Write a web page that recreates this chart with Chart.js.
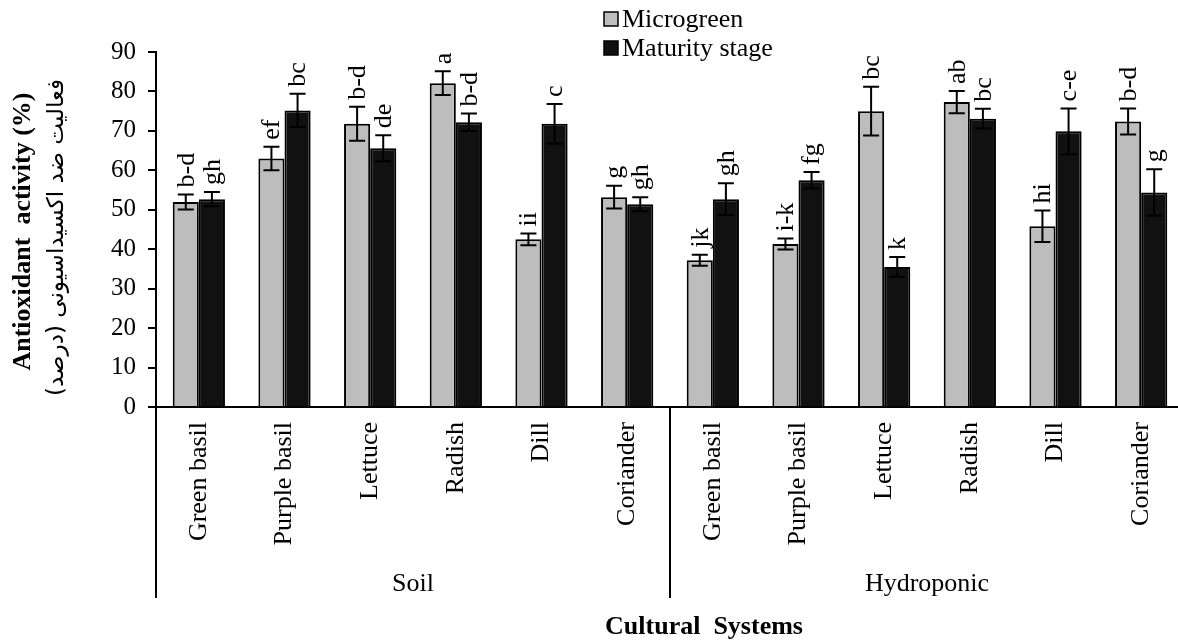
<!DOCTYPE html>
<html>
<head>
<meta charset="utf-8">
<script src="https://cdn.jsdelivr.net/npm/chart.js@4/dist/chart.umd.min.js"></script>
<style>
  html, body { margin: 0; padding: 0; background: #fff; }
  .wrap { width: 1178px; height: 643px; overflow: hidden; }
</style>
</head>
<body>
<div class="wrap"><canvas id="myChart" width="1190" height="643"></canvas></div>
<script>
const categories = ['Green basil', 'Purple basil', 'Lettuce', 'Radish', 'Dill', 'Coriander',
  'Green basil', 'Purple basil', 'Lettuce', 'Radish', 'Dill', 'Coriander']
const systems = ['Soil', 'Hydroponic']

const microgreen = [52.0, 63.0, 71.8, 82.1, 42.5, 53.2, 37.2, 41.3, 75.0, 77.3, 45.8, 72.4]
const microgreenErr = [1.9, 3.0, 4.3, 3.0, 1.5, 2.9, 1.4, 1.4, 6.2, 2.8, 4.0, 3.3]
const microgreenLetters = ['b-d', 'ef', 'b-d', 'a', 'ii', 'g', 'jk', 'i-k', 'bc', 'ab', 'hi', 'b-d']

const maturity = [52.7, 75.2, 65.6, 72.2, 71.8, 51.4, 52.7, 57.5, 35.5, 73.1, 69.9, 54.4]
const maturityErr = [1.8, 4.2, 3.3, 2.2, 5.0, 1.8, 4.0, 2.1, 2.5, 2.5, 5.8, 5.9]
const maturityLetters = ['gh', 'bc', 'de', 'b-d', 'c', 'gh', 'gh', 'fg', 'k', 'bc', 'c-e', 'g']

const yTicks = [0, 10, 20, 30, 40, 50, 60, 70, 80, 90]

const serif = '"Liberation Serif", "Times New Roman", serif'

// error bars + letters on top of each bar
const barExtras = {
  id: 'barExtras',
  afterDatasetsDraw(chart) {
    const { ctx, scales: { y } } = chart
    chart.data.datasets.forEach((ds, i) => {
      const meta = chart.getDatasetMeta(i)
      meta.data.forEach((bar, j) => {
        const v = ds.data[j]
        const e = ds.errors[j]
        const top = y.getPixelForValue(v + e)
        const low = y.getPixelForValue(v - e)
        ctx.save()
        ctx.strokeStyle = '#000'
        ctx.lineWidth = 2
        ctx.beginPath()
        ctx.moveTo(bar.x, top); ctx.lineTo(bar.x, low)
        ctx.moveTo(bar.x - 8, top); ctx.lineTo(bar.x + 8, top)
        ctx.moveTo(bar.x - 8, low); ctx.lineTo(bar.x + 8, low)
        ctx.stroke()
        ctx.translate(bar.x, top - 7)
        ctx.rotate(-Math.PI / 2)
        ctx.fillStyle = '#000'
        ctx.font = '26px ' + serif
        ctx.textAlign = 'left'
        ctx.textBaseline = 'middle'
        ctx.fillText(ds.letters[j], 0, 1)
        ctx.restore()
      })
    })
  },
}

// group labels, dividers, axis titles, legend
const decorations = {
  id: 'decorations',
  afterDraw(chart) {
    const { ctx, chartArea: area, scales: { x } } = chart
    const mid = (x.getPixelForValue(5) + x.getPixelForValue(6)) / 2
    ctx.save()
    ctx.strokeStyle = '#000'
    ctx.lineWidth = 2
    ctx.beginPath()
    ;[area.left, mid, area.right].forEach(px => {
      ctx.moveTo(px, area.bottom); ctx.lineTo(px, area.bottom + 191)
    })
    ctx.stroke()

    ctx.fillStyle = '#000'
    ctx.textAlign = 'center'
    ctx.textBaseline = 'middle'
    ctx.font = '26px ' + serif
    ctx.fillText(systems[0], (area.left + mid) / 2, 584)
    ctx.fillText(systems[1], (mid + area.right) / 2, 584)

    ctx.font = 'bold 26px ' + serif
    ctx.fillText('Cultural  Systems', (area.left + area.right) / 2 + 34, 627)

    const cy = (area.top + area.bottom) / 2
    ctx.save()
    ctx.translate(23, cy + 2)
    ctx.rotate(-Math.PI / 2)
    ctx.fillText('Antioxidant  activity (%)', 0, 0)
    ctx.restore()
    ctx.save()
    ctx.translate(57, cy + 8)
    ctx.rotate(-Math.PI / 2)
    ctx.font = '23px "DejaVu Sans", sans-serif'
    ctx.direction = 'rtl'
    ctx.fillText('فعالیت ضد اکسیداسیونی (درصد)', 0, 0)
    ctx.restore()

    // legend
    const items = chart.data.datasets
    items.forEach((ds, i) => {
      const ly = 19 + i * 29
      ctx.fillStyle = ds.backgroundColor
      ctx.fillRect(604, ly - 7, 14, 14)
      ctx.lineWidth = 1.5
      ctx.strokeRect(604, ly - 7, 14, 14)
      ctx.fillStyle = '#000'
      ctx.textAlign = 'left'
      ctx.font = '26px ' + serif
      ctx.fillText(ds.label, 622, ly + 1)
    })
    ctx.restore()
  },
}

const myChart = new Chart(document.getElementById('myChart'), {
  type: 'bar',
  data: {
    labels: categories,
    datasets: [
      {
        label: 'Microgreen',
        data: microgreen,
        errors: microgreenErr,
        letters: microgreenLetters,
        backgroundColor: '#bdbdbd',
        borderColor: '#000',
        borderWidth: 2,
      },
      {
        label: 'Maturity stage',
        data: maturity,
        errors: maturityErr,
        letters: maturityLetters,
        backgroundColor: '#111111',
        borderColor: '#000',
        borderWidth: 2,
      },
    ],
  },
  options: {
    responsive: false,
    animation: false,
    layout: { padding: { top: 52, right: 6, left: 0, bottom: 0 } },
    datasets: { bar: { categoryPercentage: 0.61, barPercentage: 1.0 } },
    plugins: { legend: { display: false }, tooltip: { enabled: false } },
    scales: {
      x: {
        grid: { display: false, drawTicks: false },
        border: { color: '#000', width: 2 },
        ticks: {
          color: '#000',
          font: { family: serif, size: 26 },
          minRotation: 90,
          maxRotation: 90,
          padding: 15,
          autoSkip: false,
        },
        afterFit: scale => { scale.height = 236 },
      },
      y: {
        min: 0,
        max: 90,
        afterBuildTicks: scale => { scale.ticks = yTicks.map(v => ({ value: v })) },
        grid: { drawOnChartArea: false, drawTicks: true, tickLength: 8, color: '#000', lineWidth: 2 },
        border: { color: '#000', width: 2 },
        ticks: {
          color: '#000',
          font: { family: serif, size: 25 },
          padding: 12,
        },
        afterFit: scale => { scale.width = 156 },
      },
    },
  },
  plugins: [barExtras, decorations],
})
</script>
</body>
</html>
